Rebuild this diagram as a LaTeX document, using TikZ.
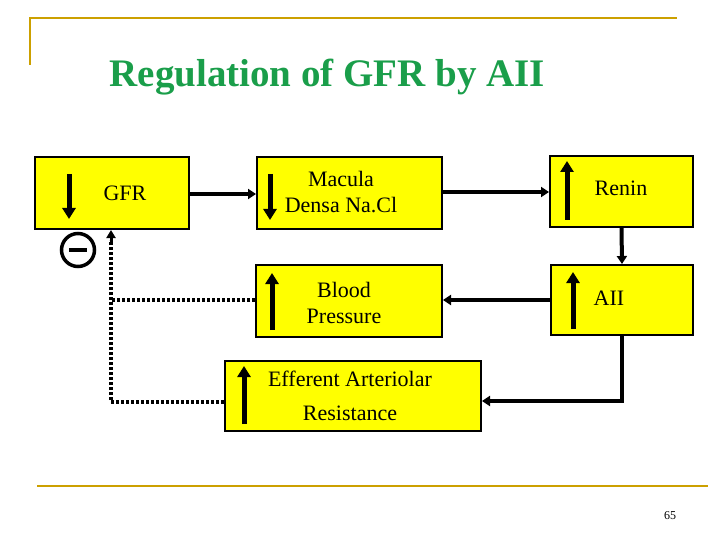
\documentclass[tikz,border=0pt]{standalone}
\usepackage{fontspec}
\setmainfont{Liberation Serif}
\usetikzlibrary{arrows.meta}
\definecolor{gold}{RGB}{204,160,0}
\definecolor{tgreen}{RGB}{26,158,74}
\definecolor{byel}{RGB}{255,255,0}
\begin{document}
\begin{tikzpicture}[x=1pt,y=-1pt,
 box/.style={draw=black,line width=2pt,fill=byel,inner sep=0pt},
 txt/.style={font=\fontsize{22}{26}\selectfont,align=center},
 big/.style={line width=5pt,-{Triangle[length=11pt,width=13pt]}},
 con/.style={line width=4pt,-{Triangle[length=8pt,width=10pt]}},
 dot/.style={line width=4pt,dash pattern=on 3pt off 2pt}]
\useasboundingbox (0,0) rectangle (720,540);
\draw[gold,line width=2.5pt] (30,65)--(30,18)--(677,18);
\draw[gold,line width=2.5pt] (37,486)--(708,486);
\node[font=\bfseries\fontsize{39}{44}\selectfont,text=tgreen,anchor=west] (title) at (106,77) {Regulation of GFR by AII};
\node[font=\fontsize{12}{14}\selectfont] (pg) at (670,516) {65};
\node[box,minimum width=154pt,minimum height=72pt] (gfr) at (112,193) {};
\node[box,minimum width=185pt,minimum height=72pt] (mac) at (349.5,193) {};
\node[box,minimum width=143pt,minimum height=71pt] (ren) at (621.5,191.5) {};
\node[box,minimum width=186pt,minimum height=72pt] (bp) at (349,301) {};
\node[box,minimum width=142pt,minimum height=70pt] (aii) at (622,300) {};
\node[box,minimum width=256pt,minimum height=70pt] (eff) at (353,396) {};
\node[txt] (tg) at (125,193) {GFR};
\node[txt] (tm) at (341,192) {Macula\\Densa Na.Cl};
\node[txt] (tr) at (621,188) {Renin};
\node[txt] (tb) at (344,303) {Blood\\Pressure};
\node[txt] (ta) at (609,298) {AII};
\node[txt,font=\fontsize{22}{34}\selectfont] (te) at (350,396) {Efferent Arteriolar\\Resistance};
\coordinate (g1) at (69,174); \coordinate (g2) at (69,219);
\coordinate (m1) at (270,174); \coordinate (m2) at (270,220);
\coordinate (r1) at (567,220); \coordinate (r2) at (567,161);
\coordinate (a1) at (573,329); \coordinate (a2) at (573,272);
\coordinate (b1) at (272,330); \coordinate (b2) at (272,273);
\coordinate (e1) at (244,424); \coordinate (e2) at (244,366);
\foreach \p/\q in {g1/g2,m1/m2,r1/r2,a1/a2,b1/b2,e1/e2} \draw[big] (\p)--(\q);
\node[circle,draw,line width=3.5pt,minimum size=33pt,inner sep=0pt] (minus) at (78,250) {};
\draw[line width=3.5pt] (69,250)--(87,250);
\draw[con] (gfr.east|-0,194)--(mac.west|-0,194);
\draw[con] (mac.east|-0,192)--(ren.west|-0,192);
\draw[con] (ren.south)--(aii.north);
\draw[con] (aii.west|-0,300)--(bp.east|-0,300);
\draw[con] (aii.south)--(622,401)--(eff.east|-0,401);
\draw[dot] (bp.west|-0,300)--(111,300);
\draw[dot] (eff.west|-0,402)--(111,402)--(111,240);
\draw[line width=3pt,-{Triangle[length=8pt,width=9pt]}] (111,242)--(gfr.south-|111,0);
\end{tikzpicture}
\end{document}
